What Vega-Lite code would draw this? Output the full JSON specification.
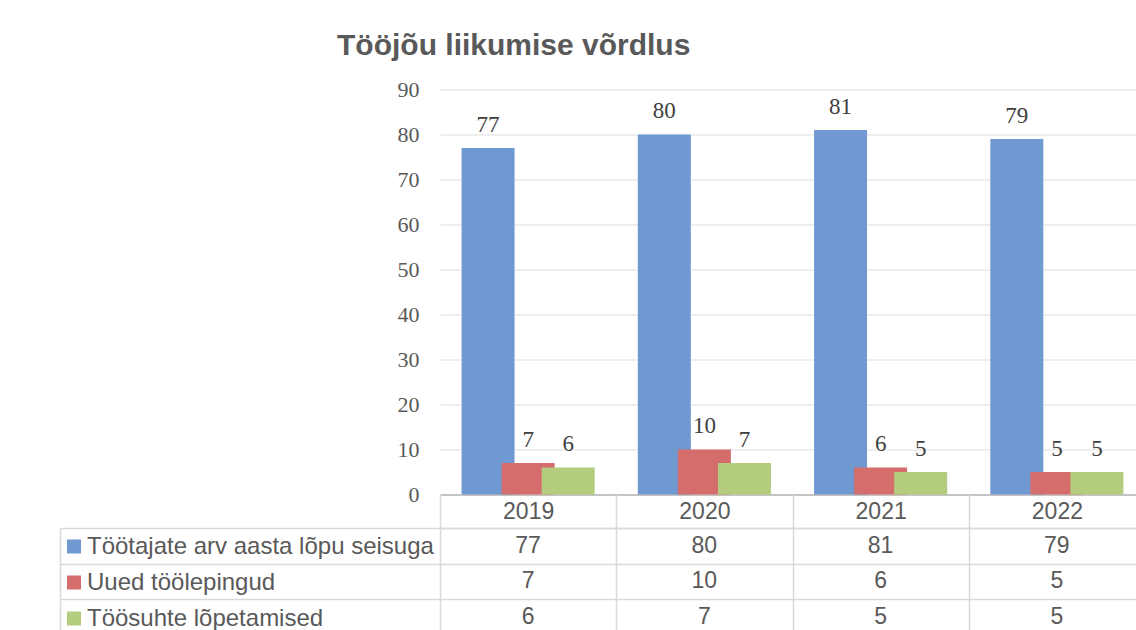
{
  "$schema": "https://vega.github.io/schema/vega-lite/v6.json",
  "background": "white",
  "padding": {"left": 59, "top": 30.5, "right": 0, "bottom": 0},
  "title": {
    "text": "Tööjõu liikumise võrdlus",
    "font": "Liberation Sans",
    "fontSize": 30,
    "fontWeight": "bold",
    "color": "#595959",
    "anchor": "start",
    "frame": "group",
    "dx": -103,
    "offset": 18
  },
  "data": {
    "values": [
      {"year": "2019", "series": "Töötajate arv aasta lõpu seisuga", "value": 77},
      {"year": "2019", "series": "Uued töölepingud", "value": 7},
      {"year": "2019", "series": "Töösuhte lõpetamised", "value": 6},
      {"year": "2020", "series": "Töötajate arv aasta lõpu seisuga", "value": 80},
      {"year": "2020", "series": "Uued töölepingud", "value": 10},
      {"year": "2020", "series": "Töösuhte lõpetamised", "value": 7},
      {"year": "2021", "series": "Töötajate arv aasta lõpu seisuga", "value": 81},
      {"year": "2021", "series": "Uued töölepingud", "value": 6},
      {"year": "2021", "series": "Töösuhte lõpetamised", "value": 5},
      {"year": "2022", "series": "Töötajate arv aasta lõpu seisuga", "value": 79},
      {"year": "2022", "series": "Uued töölepingud", "value": 5},
      {"year": "2022", "series": "Töösuhte lõpetamised", "value": 5}
    ]
  },
  "bounds": "flush",
  "spacing": 33.4,
  "vconcat": [
    {
      "width": 705,
      "height": 405,
      "encoding": {
        "x": {
          "field": "year",
          "type": "nominal",
          "scale": {"paddingInner": 0, "paddingOuter": 0},
          "axis": {"labels": false, "ticks": false, "grid": false, "title": null, "domainColor": "#c4c4c4", "domainWidth": 2}
        },
        "xOffset": {
          "field": "series",
          "type": "nominal",
          "scale": {"domain": ["Töötajate arv aasta lõpu seisuga", "Uued töölepingud", "Töösuhte lõpetamised"], "paddingInner": 0, "paddingOuter": 0.7}
        },
        "y": {
          "field": "value",
          "type": "quantitative",
          "scale": {"domain": [0, 90], "nice": false},
          "axis": {
            "values": [0, 10, 20, 30, 40, 50, 60, 70, 80, 90],
            "title": null,
            "domain": false,
            "ticks": false,
            "grid": true,
            "gridColor": "#e8e8e8",
            "gridWidth": 1.3,
            "labelFont": "Liberation Serif",
            "labelFontSize": 22,
            "labelColor": "#595959",
            "labelPadding": 21
          }
        }
      },
      "layer": [
        {
          "mark": {"type": "bar", "width": 53},
          "encoding": {
            "color": {
              "field": "series",
              "type": "nominal",
              "scale": {
                "domain": ["Töötajate arv aasta lõpu seisuga", "Uued töölepingud", "Töösuhte lõpetamised"],
                "range": ["#7099d2", "#d46d6c", "#b3cc7e"]
              },
              "legend": {
                "title": null,
                "orient": "none",
                "legendX": -378,
                "legendY": 445,
                "direction": "vertical",
                "symbolType": "square",
                "symbolSize": 196,
                "symbolStrokeWidth": 0,
                "labelFont": "Liberation Sans",
                "labelFontSize": 24,
                "labelColor": "#595959",
                "labelOffset": 1,
                "labelLimit": 400,
                "rowPadding": 12,
                "padding": 0
              }
            }
          }
        },
        {
          "mark": {"type": "text", "font": "Liberation Serif", "fontSize": 23, "color": "#404040", "baseline": "alphabetic", "dy": -16.5},
          "encoding": {
            "text": {"field": "value", "type": "quantitative"}
          }
        }
      ]
    },
    {
      "width": 705,
      "height": 106.8,
      "mark": {"type": "text", "font": "Liberation Sans", "fontSize": 23, "color": "#595959", "baseline": "middle"},
      "encoding": {
        "x": {
          "field": "year",
          "type": "nominal",
          "scale": {"paddingInner": 0, "paddingOuter": 0},
          "axis": {
            "orient": "top",
            "title": null,
            "tickBand": "extent",
            "ticks": true,
            "tickSize": 33.4,
            "tickColor": "#d9d9d9",
            "tickWidth": 1.5,
            "domain": true,
            "domainColor": "#d9d9d9",
            "domainWidth": 1.5,
            "grid": true,
            "gridColor": "#d9d9d9",
            "gridWidth": 1.5,
            "labelFont": "Liberation Sans",
            "labelFontSize": 23,
            "labelColor": "#595959",
            "labelBaseline": "middle",
            "labelPadding": -16.7,
            "labelAngle": 0
          }
        },
        "y": {
          "field": "series",
          "type": "nominal",
          "sort": ["Töötajate arv aasta lõpu seisuga", "Uued töölepingud", "Töösuhte lõpetamised"],
          "scale": {"paddingInner": 0, "paddingOuter": 0},
          "axis": {
            "title": null,
            "labels": false,
            "offset": 380,
            "tickBand": "extent",
            "ticks": true,
            "tickSize": -380,
            "tickColor": "#d9d9d9",
            "tickWidth": 1.5,
            "domain": true,
            "domainColor": "#d9d9d9",
            "domainWidth": 1.5,
            "grid": true,
            "gridColor": "#d9d9d9",
            "gridWidth": 1.5
          }
        },
        "text": {"field": "value", "type": "quantitative"}
      }
    }
  ],
  "config": {
    "view": {"stroke": null}
  }
}
